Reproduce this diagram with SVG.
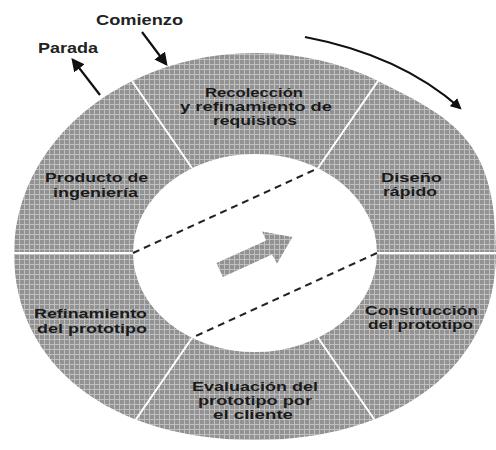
<svg xmlns="http://www.w3.org/2000/svg" width="496" height="450" viewBox="0 0 496 450">
<defs>
<pattern id="tex" width="5" height="5" patternUnits="userSpaceOnUse">
<rect width="5" height="5" fill="#c0c0c0"/>
<rect width="4" height="4" fill="#929292"/>
</pattern>
<clipPath id="ring">
<path clip-rule="evenodd" d="M14,253 A241,200 0 0,1 378,81 C458,120.2 496,143 496,253 C496,365 399.6,440 255,440 C110.4,440 14,365 14,253 Z M133,253 A122,99 0 1,0 377,253 A122,99 0 1,0 133,253 Z"/>
</clipPath>
<marker id="ah" viewBox="0 0 10 10" refX="8" refY="5" markerWidth="5" markerHeight="5" orient="auto" markerUnits="strokeWidth">
<path d="M0,0 L10,5 L0,10 Z" fill="#111"/>
</marker>
<marker id="ahs" viewBox="0 0 10 10" refX="8" refY="5" markerWidth="6" markerHeight="6" orient="auto" markerUnits="strokeWidth">
<path d="M0,0 L10,5 L0,10 Z" fill="#111"/>
</marker>
</defs>
<style>
.seg{fill:url(#tex);stroke:#fff;stroke-width:1.8;clip-path:url(#ring)}
.lbl{font-family:"Liberation Sans",Arial,sans-serif;font-weight:bold;font-size:13.5px;fill:#1a1a1a;text-anchor:middle}
.sm{font-size:13px}
.top{font-family:"Liberation Sans",Arial,sans-serif;font-weight:bold;font-size:14px;fill:#222;text-anchor:middle}
.dash{stroke:#222;stroke-width:2;stroke-dasharray:7 5;fill:none}
.arr{stroke:#111;stroke-width:2.2;fill:none}
</style>
<rect width="496" height="450" fill="#fff"/>

<g id="recoleccion">
<polygon class="seg" points="255,253 192,168.2 12,-93 498,-93 318,168.2"/>
<text class="lbl" x="254" y="97" textLength="98" lengthAdjust="spacingAndGlyphs">Recolección</text>
<text class="lbl" x="256" y="111" textLength="152" lengthAdjust="spacingAndGlyphs">y refinamiento de</text>
<text class="lbl" x="255" y="125" textLength="84" lengthAdjust="spacingAndGlyphs">requisitos</text>
</g>
<g id="diseno">
<polygon class="seg" points="255,253 318,168.2 498,-93 700,-93 700,253 377,253"/>
<text class="lbl" x="411.5" y="182" textLength="61" lengthAdjust="spacingAndGlyphs">Diseño</text>
<text class="lbl" x="410" y="196" textLength="54" lengthAdjust="spacingAndGlyphs">rápido</text>
</g>
<g id="construccion">
<polygon class="seg" points="255,253 377,253 700,253 700,600 498,599.4 318,337.8"/>
<text class="lbl" x="421.5" y="315" textLength="113" lengthAdjust="spacingAndGlyphs">Construcción</text>
<text class="lbl" x="420.5" y="329" textLength="105" lengthAdjust="spacingAndGlyphs">del prototipo</text>
</g>
<g id="evaluacion">
<polygon class="seg" points="255,253 318,337.8 498,599.4 12,599.4 192,337.8"/>
<text class="lbl sm" x="255" y="390.5" textLength="126" lengthAdjust="spacingAndGlyphs">Evaluación del</text>
<text class="lbl sm" x="255" y="404.5" textLength="114" lengthAdjust="spacingAndGlyphs">prototipo por</text>
<text class="lbl sm" x="253" y="418.5" textLength="80" lengthAdjust="spacingAndGlyphs">el cliente</text>
</g>
<g id="refinamiento">
<polygon class="seg" points="255,253 192,337.8 12,599.4 -200,600 -200,253 133,253"/>
<text class="lbl" x="90.5" y="318" textLength="113" lengthAdjust="spacingAndGlyphs">Refinamiento</text>
<text class="lbl" x="92" y="333" textLength="110" lengthAdjust="spacingAndGlyphs">del prototipo</text>
</g>
<g id="producto">
<polygon class="seg" points="255,253 133,253 -200,253 -200,-93 12,-93 192,168.2"/>
<text class="lbl" x="96.5" y="182" textLength="103" lengthAdjust="spacingAndGlyphs">Producto de</text>
<text class="lbl" x="95.5" y="197" textLength="85" lengthAdjust="spacingAndGlyphs">ingeniería</text>
</g>

<g id="centro">
<polygon fill="url(#tex)" points="222.9,277 272,254.5 277,263.5 292.5,237 262,231.5 266.2,240.5 216.5,263"/>
</g>

<g id="labels">
<text class="top" x="139.5" y="25" textLength="87" lengthAdjust="spacingAndGlyphs">Comienzo</text>
<text class="top" x="68" y="53" textLength="60" lengthAdjust="spacingAndGlyphs">Parada</text>
</g>

<g id="connectors">
<line class="dash" x1="133" y1="253" x2="318" y2="168.2"/>
<line class="dash" x1="377" y1="253" x2="192" y2="337.8"/>
<line class="arr" x1="142" y1="32" x2="166" y2="64" marker-end="url(#ahs)"/>
<line class="arr" x1="100" y1="95" x2="73" y2="60" marker-end="url(#ahs)"/>
<path class="arr" d="M305,37 Q400,55 460,108" stroke-width="3" marker-end="url(#ah)"/>
</g>
</svg>
